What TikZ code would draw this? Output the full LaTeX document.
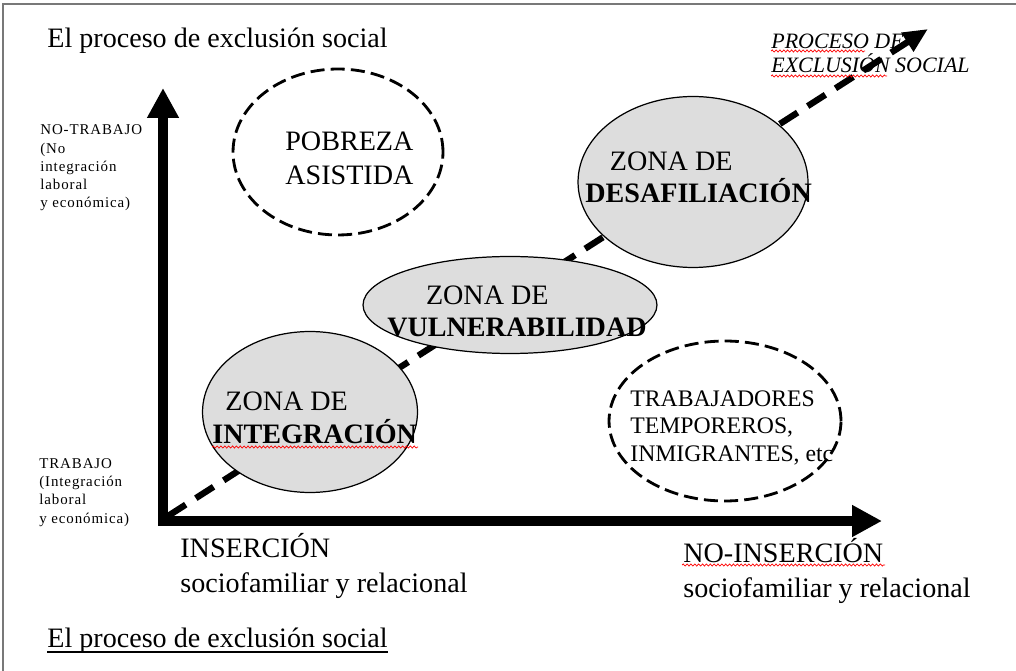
\documentclass[tikz,border=0pt]{standalone}
\usepackage{fontspec}
\setmainfont{Liberation Serif}
\usetikzlibrary{arrows.meta,shapes.geometric,decorations.pathmorphing}

\definecolor{grisZona}{RGB}{221,221,221}
\definecolor{grisMarco}{RGB}{120,120,120}

\tikzset{
  eje/.style={line width=5.7pt, line join=miter,
    {Triangle[length=17pt,width=17pt]}-{Triangle[length=17pt,width=17pt]}},
  proceso/.style={line width=3.6pt, dash pattern=on 12pt off 6.8pt,
    -{Triangle[length=14pt,width=12pt]}},
  zona/.style={ellipse, draw, line width=0.7pt, fill=grisZona, inner sep=0pt},
  grupo/.style={ellipse, draw, line width=1.6pt, dash pattern=on 8pt off 3.5pt, inner sep=0pt},
  grande/.style={font=\fontsize{16}{19.8}\selectfont, align=left, inner sep=0pt, anchor=base west},
  zonatexto/.style={font=\fontsize{16}{18.5}\selectfont, align=left, inner sep=0pt, anchor=base west},
  mediano/.style={font=\fontsize{13.5}{15.6}\selectfont, align=left, inner sep=0pt, anchor=base west},
  cursiva/.style={font=\fontsize{12.5}{14.2}\selectfont\itshape, align=left, inner sep=0pt, anchor=base west},
  chico/.style={font=\fontsize{8.5}{10.4}\selectfont\addfontfeature{LetterSpace=6}, align=left, inner sep=0pt, anchor=base west},
  corrector/.style={red, line width=0.4pt, decorate, decoration={snake, amplitude=0.6pt, segment length=2.2pt}},
}

\begin{document}
\begin{tikzpicture}[x=0.02cm, y=-0.02cm]
\useasboundingbox (0,0) rectangle (1016,671);
% marco
\draw[grisMarco, line width=0.8pt] (1016,4) -- (3,4) -- (3,671);

% titulo y pie
\node[grande] (titulo) at (47,48) {El proceso de exclusión social};
\node[grande] (pie) at (47,647) {El proceso de exclusión social};
\draw[line width=0.8pt] ([yshift=-2.8pt]pie.base west) -- ([yshift=-2.8pt]pie.base east);

% etiquetas de los ejes (base = ultima linea)
\node[chico] (notrabajo) at (40,208) {NO-TRABAJO\\(No\\integración\\laboral\\y económica)};
\node[chico] (trabajo) at (39,523) {TRABAJO\\(Integración\\laboral\\y económica)};
\node[grande] (insercion) at (180,592) {INSERCIÓN\\sociofamiliar y relacional};
\node[grande] (noinsercion) at (683,597) {NO-INSERCIÓN\\sociofamiliar y relacional};
\node[cursiva] (proclabel) at (771,73) {PROCESO DE\\EXCLUSIÓN SOCIAL};

% ejes
\coordinate (origen) at (163,521);
\coordinate (ytip) at (163,88);
\coordinate (xtip) at (882,521);
\draw[eje] (ytip) -- (origen) -- (xtip);

% proceso de exclusion
\coordinate (inicio) at (168,516);
\coordinate (fin) at (928,29);
\draw[proceso] (inicio) -- (fin);

% zonas
\node[zona, minimum width=4.3cm, minimum height=3.22cm] (integracion) at (310,412) {};
\node[zona, minimum width=5.88cm, minimum height=1.94cm] (vulnerabilidad) at (510,305) {};
\node[zona, minimum width=4.6cm, minimum height=3.42cm] (desafiliacion) at (693,182) {};
\node[grupo, minimum width=4.2cm, minimum height=3.32cm] (pobreza) at (338,152) {};
\node[grupo, minimum width=4.64cm, minimum height=3.2cm] (temporeros) at (725,421) {};

\node[zonatexto] (tintegracion) at (212,443) {\hspace*{7.4pt}ZONA DE\\\textbf{INTEGRACIÓN}};
\node[zonatexto] (tvulnerabilidad) at (387,337) {\hspace*{22pt}ZONA DE\\\textbf{VULNERABILIDAD}};
\node[zonatexto] (tdesafiliacion) at (585,203) {\hspace*{14pt}ZONA DE\\\textbf{DESAFILIACIÓN}};
\node[grande] (tpobreza) at (285,185) {POBREZA\\ASISTIDA};
\node[mediano] (ttemporeros) at (630,461) {TRABAJADORES\\TEMPOREROS,\\INMIGRANTES, etc};

% subrayado del corrector
\draw[corrector] (771,51) -- (865,51);
\draw[corrector] (771,76) -- (887,76);
\draw[corrector] (212,447) -- (418,447);
\draw[corrector] (682,565) -- (885,565);
\end{tikzpicture}
\end{document}
